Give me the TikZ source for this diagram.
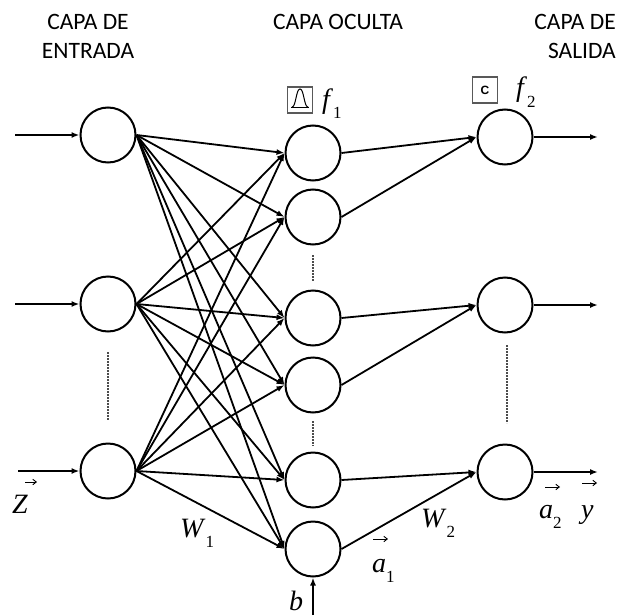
\documentclass[tikz,border=0pt]{standalone}
\usepackage{fontspec}
\setmainfont{Liberation Serif}
\newfontfamily\hdrfont{Carlito}
\newfontfamily\iconfont{Liberation Sans}
\usetikzlibrary{arrows.meta}
\newcommand\sublab[1]{\raisebox{-10pt}{\fontsize{17}{17}\selectfont #1}}
\begin{document}
\begin{tikzpicture}[x=1pt,y=-1pt,
  neuron/.style={circle,draw,line width=2pt,minimum size=55pt,inner sep=0pt},
  conn/.style={line width=1.8pt,-{Latex[length=8pt,width=6pt]}},
  vecarrow/.style={line width=0.9pt,-{Straight Barb[length=3.5pt,width=5.5pt]}},
  dots/.style={line width=2pt,densely dotted,draw=black!70},
  hdr/.style={font=\hdrfont\fontsize{23.5}{29}\selectfont,inner sep=0pt,text=black},
  lab/.style={font=\fontsize{28}{34}\selectfont,inner sep=0pt,anchor=base west},
  iconbox/.style={draw=black!65,line width=1.3pt,minimum width=25pt,minimum height=26pt,inner sep=0pt}]
\useasboundingbox (0,0) rectangle (628,615);

% headers
\node[hdr,align=center] (hin) at (88,36) {CAPA DE\\ENTRADA};
\node[hdr] (hhid) at (338,22) {CAPA OCULTA};
\node[hdr,align=right,anchor=east] (hout) at (616,36) {CAPA DE\\SALIDA};

% neurons
\node[neuron] (i1) at (108,135) {};
\node[neuron] (i2) at (108,304) {};
\node[neuron] (i3) at (108,471) {};
\node[neuron] (h1) at (313,153) {};
\node[neuron] (h2) at (313,217) {};
\node[neuron] (h3) at (313,318) {};
\node[neuron] (h4) at (313,385) {};
\node[neuron] (h5) at (313,480) {};
\node[neuron] (h6) at (313,549) {};
\node[neuron] (o1) at (505,137) {};
\node[neuron] (o2) at (505,305) {};
\node[neuron] (o3) at (505,472) {};

% free ends
\coordinate (in1) at (15,135);
\coordinate (in2) at (15,304);
\coordinate (in3) at (18,471);
\coordinate (out1) at (598,137);
\coordinate (out2) at (598,305);
\coordinate (out3) at (598,472);
\coordinate (bin) at (313,615);

% input arrows
\foreach \k in {1,2,3} \draw[conn] (in\k) -- (i\k.west);
% input -> hidden
\foreach \k in {1,2,3} \foreach \h in {1,...,6} \draw[conn] (i\k.east) -- (h\h.west);
% hidden -> output
\draw[conn] (h1.east) -- (o1.west);
\draw[conn] (h2.east) -- (o1.west);
\draw[conn] (h3.east) -- (o2.west);
\draw[conn] (h4.east) -- (o2.west);
\draw[conn] (h5.east) -- (o3.west);
\draw[conn] (h6.east) -- (o3.west);
% outputs
\foreach \k in {1,2,3} \draw[conn] (o\k.east) -- (out\k);
% bias
\draw[conn] (bin) -- (h6.south);

% dotted lines
\coordinate (d1a) at (108,352); \coordinate (d1b) at (108,420);
\coordinate (d2a) at (313,255); \coordinate (d2b) at (313,281);
\coordinate (d3a) at (313,421); \coordinate (d3b) at (313,446);
\coordinate (d4a) at (507,345); \coordinate (d4b) at (507,423);
\draw[dots] (d1a) -- (d1b);
\draw[dots] (d2a) -- (d2b);
\draw[dots] (d3a) -- (d3b);
\draw[dots] (d4a) -- (d4b);

% icons
\node[iconbox] (fb1) at (300,100) {};
\begin{scope}[shift={(fb1.center)}]
  \draw[line width=1pt] (-9,7) -- (9,7);
  \draw[line width=1pt] (-8,7) .. controls (-4,7) and (-4,-11) .. (0,-11) .. controls (4,-11) and (4,7) .. (8,7);
\end{scope}
\node[iconbox,font=\iconfont\bfseries\fontsize{12}{12}\selectfont] (fb2) at (485,90) {C};

% labels
\node[lab] (f1) at (322,108) {\textit{f}\sublab{1}};
\node[lab] (f2) at (516,97) {\textit{f}\sublab{2}};
\node[lab] (zl) at (12,513) {\textit{Z}};
\node[lab] (w1) at (180,537) {\textit{W}\sublab{1}};
\node[lab] (w2) at (421,527) {\textit{W}\sublab{2}};
\node[lab] (a1) at (372,572) {\textit{a}\sublab{1}};
\node[lab] (a2) at (539,518) {\textit{a}\sublab{2}};
\node[lab] (yl) at (581,518) {\textit{y}};
\node[lab] (bl) at (289,610) {\textit{b}};

% vector arrows over labels
\draw[vecarrow] ([shift={(13,-31)}]zl.base west) -- ++(12,0);
\draw[vecarrow] ([shift={(1,-33)}]a1.base west) -- ++(15,0);
\draw[vecarrow] ([shift={(6,-31)}]a2.base west) -- ++(15,0);
\draw[vecarrow] ([shift={(1,-35)}]yl.base west) -- ++(15,0);
\end{tikzpicture}
\end{document}
